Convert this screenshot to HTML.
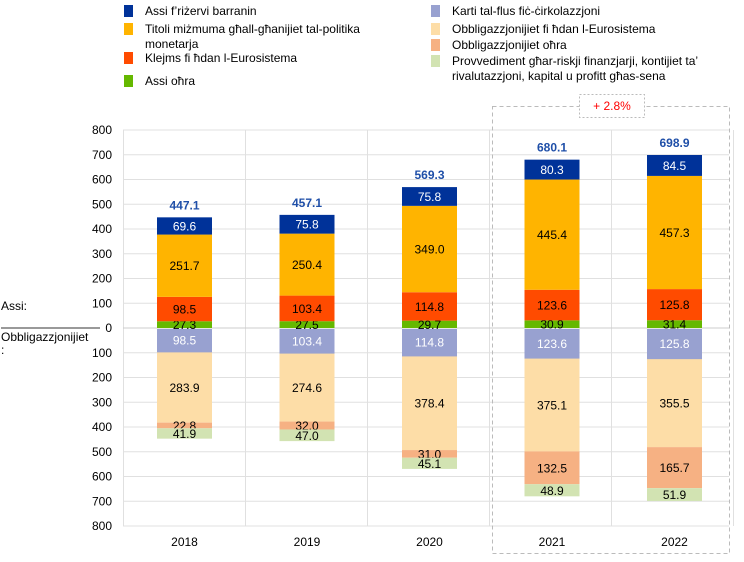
<!DOCTYPE html>
<html><head><meta charset="utf-8"><style>
body{margin:0;background:#fff;width:744px;height:557px;overflow:hidden}
svg{font-family:"Liberation Sans",sans-serif}
</style></head><body>
<svg id="s" width="744" height="557" xmlns="http://www.w3.org/2000/svg"></svg>
<script>
const s=document.getElementById('s');let h='';
const z=328,k=198/800;
const leg=[[124,11,'#003299',['Assi f’riżervi barranin']],[124,29,'#FFB400',['Titoli miżmuma għall-għanijiet tal-politika','monetarja']],[124,58,'#FF4B00',[' Klejms fi ħdan l-Eurosistema']],[124,81,'#65B800',['Assi oħra']],
[431,11,'#98A1D0',['Karti tal-flus fiċ-ċirkolazzjoni']],[431,29,'#FDDDA7',['Obbligazzjonijiet fi ħdan l-Eurosistema']],[431,45,'#F6B183',['Obbligazzjonijiet oħra']],[431,61,'#D2E3B2',['Provvediment għar-riskji finanzjarji, kontijiet ta’','rivalutazzjoni, kapital u profitt għas-sena']]];
for(const [x,y,c,t] of leg){h+=`<rect x="${x}" y="${y-6}" width="9" height="12" fill="${c}"/>`;t.forEach((l,i)=>h+=`<text x="${x+21}" y="${y+4+i*15}" font-size="12" fill="#000">${l}</text>`);}
for(let i=-8;i<=8;i++){const y=z-i*100*k;h+=`<line x1="123" x2="729" y1="${y}" y2="${y}" stroke="#e0e0e0"/>`;h+=`<text x="112" y="${y+4}" font-size="12" text-anchor="end">${Math.abs(i*100)}</text>`;}
for(let i=0;i<=5;i++){const x=123.5+i*122;h+=`<line x1="${x}" x2="${x}" y1="130" y2="526" stroke="#e0e0e0"/>`;}
h+=`<line x1="123" x2="729" y1="${z}" y2="${z}" stroke="#ccc"/>`;
h+=`<text x="1" y="310" font-size="12">Assi:</text><line x1="1" x2="100" y1="328" y2="328" stroke="#999" stroke-width="2"/><text x="1" y="341" font-size="12">Obbligazzjonijiet</text><text x="1" y="354" font-size="12">:</text>`;
const yrs=['2018','2019','2020','2021','2022'];
const A=[[27.3,98.5,251.7,69.6,'447.1'],[27.5,103.4,250.4,75.8,'457.1'],[29.7,114.8,349.0,75.8,'569.3'],[30.9,123.6,445.4,80.3,'680.1'],[31.4,125.8,457.3,84.5,'698.9']];
const L=[[98.5,283.9,22.8,41.9],[103.4,274.6,32.0,47.0],[114.8,378.4,31.0,45.1],[123.6,375.1,132.5,48.9],[125.8,355.5,165.7,51.9]];
const ac=['#65B800','#FF4B00','#FFB400','#003299'],at=['#000','#000','#000','#fff'];
const lc=['#98A1D0','#FDDDA7','#F6B183','#D2E3B2'],lt=['#fff','#000','#000','#000'];
for(let j=0;j<5;j++){const cx=184.5+j*122.5,x=cx-27.5;let c=0;
for(let i=0;i<4;i++){const v=A[j][i],y1=z-(c+v)*k,hh=v*k;h+=`<rect x="${x}" y="${y1}" width="55" height="${hh}" fill="${ac[i]}"/>`;h+=`<text x="${cx}" y="${y1+hh/2+4.5}" font-size="12" text-anchor="middle" fill="${at[i]}">${v.toFixed(1)}</text>`;c+=v;}
h+=`<text x="${cx}" y="${z-c*k-8}" font-size="12" font-weight="bold" text-anchor="middle" fill="#1F4FA8">${A[j][4]}</text>`;
c=0;for(let i=0;i<4;i++){const v=L[j][i],y1=z+c*k,hh=v*k;h+=`<rect x="${x}" y="${y1+(i==0?1:0)}" width="55" height="${hh}" fill="${lc[i]}"/>`;h+=`<text x="${cx}" y="${y1+hh/2+4.5}" font-size="12" text-anchor="middle" fill="${lt[i]}">${v.toFixed(1)}</text>`;c+=v;}
h+=`<text x="${cx}" y="546" font-size="12" text-anchor="middle">${yrs[j]}</text>`;}
h+=`<rect x="492.5" y="106.5" width="237" height="447" fill="none" stroke="#bbb" stroke-dasharray="4,3"/>`;
h+=`<rect x="579.5" y="94.5" width="65" height="23" fill="#fff" stroke="#bbb" stroke-dasharray="2,2"/><text x="612" y="110" font-size="12" text-anchor="middle" fill="#f00">+ 2.8%</text>`;
s.innerHTML=h;
</script></body></html>
